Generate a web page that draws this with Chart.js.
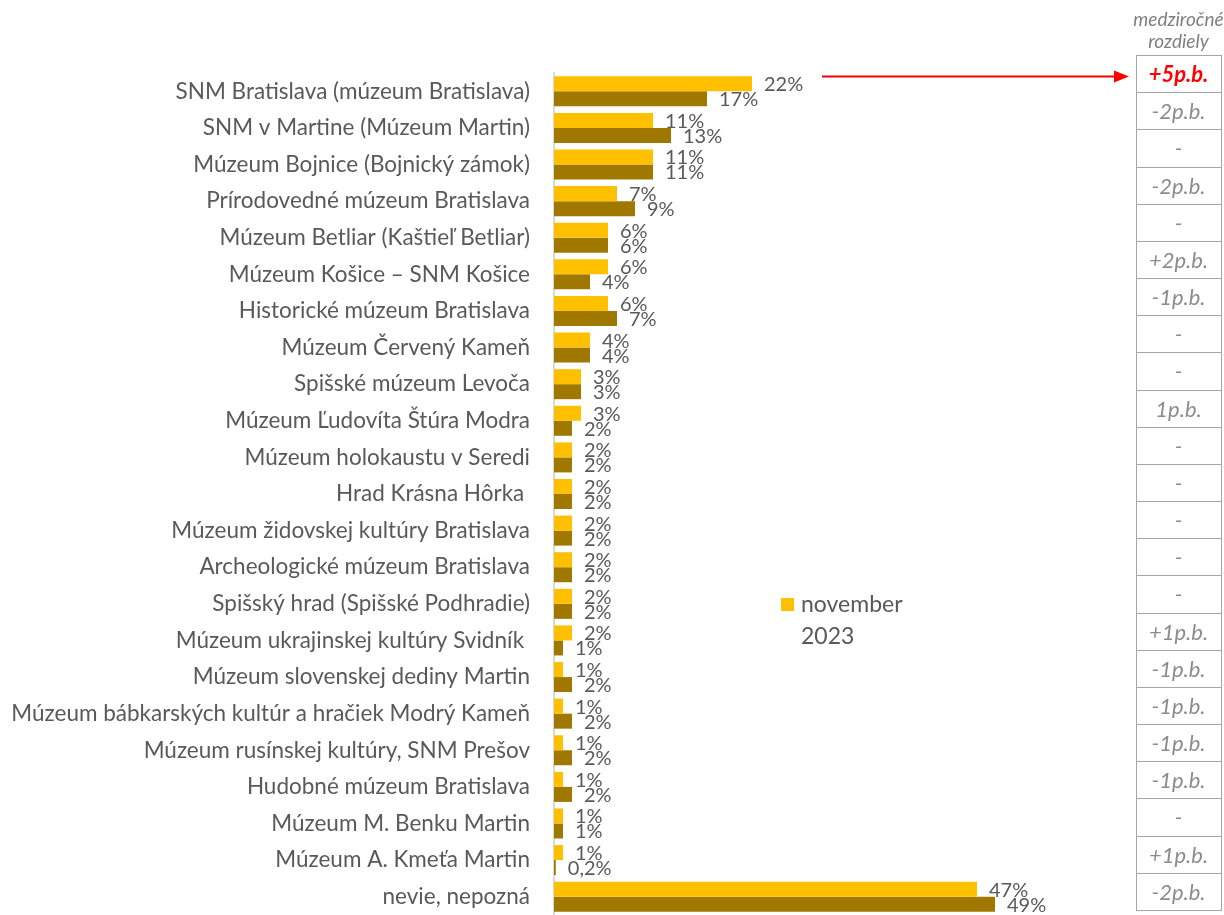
<!DOCTYPE html>
<html>
<head>
<meta charset="utf-8">
<script src="https://cdn.jsdelivr.net/npm/chart.js@4.4.1/dist/chart.umd.min.js"></script>
<style>
  html, body { margin: 0; padding: 0; background: #fff; }
  #wrap { width: 1224px; height: 915px; position: relative; }
</style>
</head>
<body>
<div id="wrap"><canvas id="myChart" width="1224" height="915"></canvas></div>
<script>
// kategórie (múzeá)
const kategorie = [
  'SNM Bratislava (múzeum Bratislava)',
  'SNM v Martine (Múzeum Martin)',
  'Múzeum Bojnice (Bojnický zámok)',
  'Prírodovedné múzeum Bratislava',
  'Múzeum Betliar (Kaštieľ Betliar)',
  'Múzeum Košice – SNM Košice',
  'Historické múzeum Bratislava',
  'Múzeum Červený Kameň',
  'Spišské múzeum Levoča',
  'Múzeum Ľudovíta Štúra Modra',
  'Múzeum holokaustu v Seredi',
  'Hrad Krásna Hôrka ',
  'Múzeum židovskej kultúry Bratislava',
  'Archeologické múzeum Bratislava',
  'Spišský hrad (Spišské Podhradie)',
  'Múzeum ukrajinskej kultúry Svidník ',
  'Múzeum slovenskej dediny Martin',
  'Múzeum bábkarských kultúr a hračiek Modrý Kameň',
  'Múzeum rusínskej kultúry, SNM Prešov',
  'Hudobné múzeum Bratislava',
  'Múzeum M. Benku Martin',
  'Múzeum A. Kmeťa Martin',
  'nevie, nepozná'
];

const nov2023 = [22, 11, 11, 7, 6, 6, 6, 4, 3, 3, 2, 2, 2, 2, 2, 2, 1, 1, 1, 1, 1, 1, 47];
const nov2022 = [17, 13, 11, 9, 6, 4, 7, 4, 3, 2, 2, 2, 2, 2, 2, 1, 2, 2, 2, 2, 1, 0.2, 49];

// medziročné rozdiely
const rozdiely = ['+5p.b.', '-2p.b.', '-', '-2p.b.', '-', '+2p.b.', '-1p.b.', '-', '-', '1p.b.',
  '-', '-', '-', '-', '-', '+1p.b.', '-1p.b.', '-1p.b.', '-1p.b.', '-1p.b.', '-', '+1p.b.', '-2p.b.'];

const FONT = 'Lato, "Open Sans", sans-serif';
const SIVA = '#595959';

// popisky hodnôt za stĺpcami
const popiskyPlugin = {
  id: 'popisky',
  afterDatasetsDraw(chart) {
    const ctx = chart.ctx;
    ctx.save();
    ctx.font = '20px ' + FONT;
    ctx.fillStyle = SIVA;
    ctx.textAlign = 'left';
    ctx.textBaseline = 'middle';
    chart.data.datasets.forEach((ds, i) => {
      const meta = chart.getDatasetMeta(i);
      meta.data.forEach((bar, j) => {
        const v = ds.data[j];
        const txt = String(v).replace('.', ',') + '%';
        ctx.fillText(txt, bar.x + 12, bar.y + 1);
      });
    });
    ctx.restore();
  }
};

// legenda + tabuľka rozdielov + šípka
const extraPlugin = {
  id: 'extra',
  afterDraw(chart) {
    const ctx = chart.ctx;
    ctx.save();

    // legenda (len november 2023)
    ctx.fillStyle = chart.data.datasets[0].backgroundColor;
    ctx.fillRect(781, 598, 13, 13);
    ctx.fillStyle = SIVA;
    ctx.font = '23px ' + FONT;
    ctx.textAlign = 'left';
    ctx.textBaseline = 'middle';
    ctx.fillText('november', 801, 605);
    ctx.fillText('2023', 801, 637);

    // tabuľka
    const left = 1136, right = 1221, top = 55, bottom = 910;
    const rowH = (bottom - top) / rozdiely.length;
    const cx = (left + right) / 2;
    ctx.fillStyle = '#7F7F7F';
    ctx.font = 'italic 19px ' + FONT;
    ctx.textAlign = 'center';
    ctx.fillText('medziročné', cx, 20);
    ctx.fillText('rozdiely', cx, 42);

    ctx.strokeStyle = '#A6A6A6';
    ctx.lineWidth = 1;
    rozdiely.forEach((r, i) => {
      const y0 = Math.round(top + i * rowH);
      const y1 = Math.round(top + (i + 1) * rowH);
      ctx.strokeRect(left + 0.5, y0 + 0.5, right - left, y1 - y0);
      if (i === 0) {
        ctx.fillStyle = '#FF0000';
        ctx.font = 'italic bold 22px ' + FONT;
      } else {
        ctx.fillStyle = '#8C8C8C';
        ctx.font = 'italic 22px ' + FONT;
      }
      ctx.fillText(r, cx, (y0 + y1) / 2 + 1);
    });

    // šípka k prvému riadku
    const ay = top + rowH / 2 + 3;
    ctx.strokeStyle = '#FF0000';
    ctx.fillStyle = '#FF0000';
    ctx.lineWidth = 2;
    ctx.beginPath();
    ctx.moveTo(822, ay);
    ctx.lineTo(1116, ay);
    ctx.stroke();
    ctx.beginPath();
    ctx.moveTo(1129, ay);
    ctx.lineTo(1114, ay - 6);
    ctx.lineTo(1114, ay + 6);
    ctx.closePath();
    ctx.fill();

    ctx.restore();
  }
};

const ctx = document.getElementById('myChart');
const myChart = new Chart(ctx, {
  type: 'bar',
  data: {
    labels: kategorie,
    datasets: [
      {
        label: 'november 2023',
        data: nov2023,
        backgroundColor: '#FFC000',
        categoryPercentage: 0.82,
        barPercentage: 1
      },
      {
        label: 'november 2022',
        data: nov2022,
        backgroundColor: '#A07800',
        categoryPercentage: 0.82,
        barPercentage: 1
      }
    ]
  },
  options: {
    indexAxis: 'y',
    responsive: false,
    animation: false,
    layout: { padding: { top: 73, right: 130, bottom: -2, left: 0 } },
    plugins: {
      legend: { display: false },
      tooltip: { enabled: false }
    },
    scales: {
      x: {
        display: false,
        min: 0,
        max: 60
      },
      y: {
        grid: { display: false, drawTicks: false },
        border: { display: true, color: '#D9D9D9', width: 2 },
        ticks: {
          color: SIVA,
          font: { family: FONT, size: 22.5 },
          padding: 24,
          autoSkip: false
        },
        afterFit(scale) {
          scale.width = 554;
          scale.paddingTop = 0;
          scale.paddingBottom = 0;
        }
      }
    }
  },
  plugins: [popiskyPlugin, extraPlugin]
});
</script>
</body>
</html>
